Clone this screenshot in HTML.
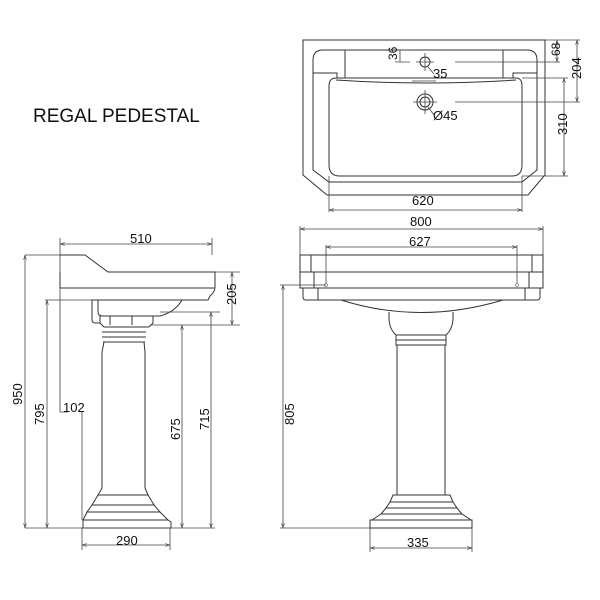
<!DOCTYPE html>
<html><head><meta charset="utf-8"><style>
html,body{margin:0;padding:0;background:#fff;width:600px;height:600px;overflow:hidden}
svg{display:block}
text{font-family:"Liberation Sans",Arial,sans-serif;font-size:13px;fill:#111}
.l{stroke:#333;stroke-width:1;fill:none}
.d{stroke:#444;stroke-width:0.8;fill:none}
</style></head><body>
<svg width="600" height="600" viewBox="0 0 600 600" xmlns="http://www.w3.org/2000/svg">
<defs>
<marker id="a" viewBox="0 0 10 10" refX="10" refY="5" markerWidth="6" markerHeight="6" orient="auto-start-reverse"><path d="M0,2 L10,5 L0,8" fill="none" stroke="#444" stroke-width="1.2"/></marker>
</defs>
<text x="33" y="122" style="font-size:19px">REGAL PEDESTAL</text>

<!-- TOP VIEW -->
<path class="l" d="M303,40 H545 V175 L528,195 H327 L303,175 Z"/>
<path class="l" d="M313,60 Q313,50 323,50 H527 Q537,50 537,60 V170 L522,182 H329 L313,170 Z"/>
<path class="l" d="M345,50 V78 M503,50 V78 M313,73 H337 V78 M537,73 H513 V78"/>
<path class="l" d="M336,78 H516 Q522,78 522,86 V165 Q522,176 512,176 H340 Q329,176 329,165 V86 Q329,78 336,78 Z"/>
<path class="l" d="M336,80 Q425,86 516,80"/>
<circle class="l" cx="425" cy="62" r="5"/>
<path class="d" d="M416,62 H434 M425,53 V71"/>
<circle class="l" cx="425" cy="102" r="8"/><circle class="l" cx="425" cy="102" r="5"/>
<path class="d" d="M413,102 H437 M425,90 V114"/>
<path class="d" d="M428,67 L434,74 M428,107 L434,115"/>
<path class="d" d="M412,81 H436"/>
<text x="433" y="78">35</text>
<text x="433" y="120">Ø45</text>
<path class="d" d="M400,50 V62 M395,50 H410 M395,62 H410"/>
<text transform="translate(397,60) rotate(-90)" style="font-size:12px">36</text>
<path class="d" d="M545,40 H580 M455,62 H560 M455,102 H580 M522,78 H568 M522,176 H568"/>
<path class="d" marker-start="url(#a)" marker-end="url(#a)" d="M557,40 V62"/>
<path class="d" marker-start="url(#a)" marker-end="url(#a)" d="M577,40 V102"/>
<path class="d" marker-start="url(#a)" marker-end="url(#a)" d="M564,78 V176"/>
<text transform="translate(560,56) rotate(-90)" style="font-size:12px">68</text>
<text transform="translate(581,79) rotate(-90)">204</text>
<text transform="translate(567,135) rotate(-90)">310</text>
<path class="d" d="M329,176 V212 M522,176 V212"/>
<path class="d" marker-start="url(#a)" marker-end="url(#a)" d="M329,210 H522"/>
<text x="412" y="205">620</text>

<!-- SIDE VIEW -->
<path class="d" d="M60,238 V412 H67 M212,238 V255"/>
<path class="d" marker-start="url(#a)" marker-end="url(#a)" d="M60,244 H212"/>
<text x="130" y="243">510</text>
<path class="l" d="M60,255 H85 L108,272 H215 V287 Q215,292 210,296 L208,300 H92 M60,272 V288 M60,288 H215"/>
<path class="l" d="M92,300 V320 Q92,323 96,323 H100 M98,300 V312 Q98,316 103,316 H160 Q175,312 182,300"/>
<path class="l" d="M100,316 V323 L104,327 M153,316 V323 L149,327 M110,316 V325 M132,316 V325"/>
<path class="l" d="M104,327 H149 M102,332 H146 M102,337 H146 M103,342 H145"/>
<path class="l" d="M104,342 L102,352 V488 L98,495 H148 L145,488 V352 L144,342"/>
<path class="l" d="M98,495 L92,505 H154 L148,495 M92,505 L87,512 H160 L154,505 M87,512 L83,520 H168 L160,512 M83,520 V528 H171 V522 L168,520"/>
<path class="d" d="M25,255 H60 M45,300 H92 M25,528 H215 M150,325 H240 M160,312 H220 M215,272 H240"/>
<path class="d" marker-start="url(#a)" marker-end="url(#a)" d="M25,255 V528"/>
<path class="d" marker-start="url(#a)" marker-end="url(#a)" d="M47,300 V528"/>
<path class="d" marker-start="url(#a)" marker-end="url(#a)" d="M182,325 V528"/>
<path class="d" marker-start="url(#a)" marker-end="url(#a)" d="M211,312 V528"/>
<path class="d" marker-start="url(#a)" marker-end="url(#a)" d="M232,272 V325"/>
<text transform="translate(22,405) rotate(-90)">950</text>
<text transform="translate(44,425) rotate(-90)">795</text>
<text transform="translate(180,440) rotate(-90)">675</text>
<text transform="translate(209,430) rotate(-90)">715</text>
<text transform="translate(236,305) rotate(-90)">205</text>
<text x="63" y="412">102</text>
<path class="d" d="M82,412 V520 M82,528 V550 M170,528 V550"/>
<path class="d" marker-start="url(#a)" marker-end="url(#a)" d="M82,545 H170"/>
<text x="116" y="545">290</text>

<!-- FRONT VIEW -->
<path class="d" d="M300,226 V255 M543,226 V255"/>
<path class="d" marker-start="url(#a)" marker-end="url(#a)" d="M300,229 H543"/>
<text x="410" y="226">800</text>
<path class="l" d="M300,255 H543 V272 H300 Z M300,272 V288 H543 V272 M311,255 V272 M532,255 V272 M314,272 V288 M529,272 V288"/>
<path class="l" d="M303,288 H540 V297 Q540,300 537,300 H306 Q303,300 303,297 Z M318,288 V300 M525,288 V300"/>
<path class="l" d="M341,300 Q420,325 503,300"/>
<path class="d" d="M326,245 V285 M517,245 V285"/>
<path class="d" marker-start="url(#a)" marker-end="url(#a)" d="M326,247 H517"/>
<text x="409" y="246">627</text>
<circle cx="326" cy="285" r="1.5" fill="#fff" stroke="#555" stroke-width="0.6"/>
<circle cx="517" cy="285" r="1.5" fill="#fff" stroke="#555" stroke-width="0.6"/>
<path class="l" d="M389,312 V320 Q390,330 396,335 H446 Q452,330 453,320 V312"/>
<path class="l" d="M396,335 V345 H446 V335 M396,340 H446 M397,345 V495 M445,345 V495"/>
<path class="l" d="M393,495 H450 L453,502 H390 Z M390,502 L386,508 H457 L453,502 M386,508 L381,514 H462 L457,508 M381,514 L372,520 H471 L462,514 M370,520 V528 H472 V520 Z"/>
<path class="d" d="M280,285 H326 M280,528 H370"/>
<path class="d" marker-start="url(#a)" marker-end="url(#a)" d="M283,285 V528"/>
<text transform="translate(294,425) rotate(-90)">805</text>
<path class="d" d="M370,528 V552 M472,528 V552"/>
<path class="d" marker-start="url(#a)" marker-end="url(#a)" d="M370,548 H472"/>
<text x="407" y="547">335</text>
</svg>
</body></html>
